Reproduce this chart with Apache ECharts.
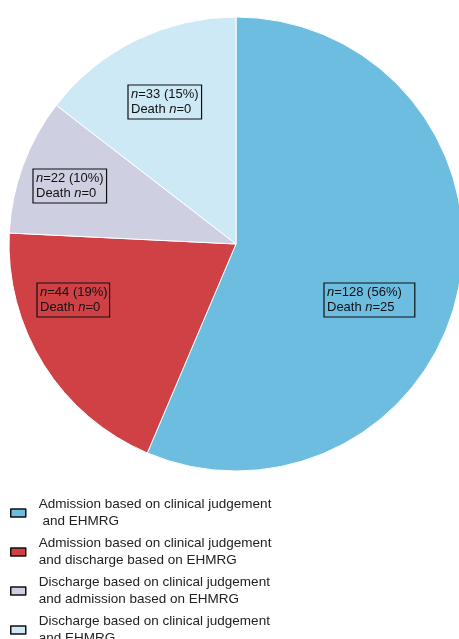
<!DOCTYPE html>
<html>
<head>
<meta charset="utf-8">
<script src="https://cdn.jsdelivr.net/npm/echarts@6/dist/echarts.min.js"></script>
<style>
html, body { margin: 0; padding: 0; background: #fff; }
#main { width: 459px; height: 639px; }
</style>
</head>
<body>
<div id="main"></div>
<script>
// data
var categories = [
    'Admission based on clinical judgement\n and EHMRG',
    'Admission based on clinical judgement\nand discharge based on EHMRG',
    'Discharge based on clinical judgement\nand admission based on EHMRG',
    'Discharge based on clinical judgement\nand EHMRG'
];
var counts = [128, 44, 22, 33];
var percents = [56, 19, 10, 15];
var deaths = [25, 0, 0, 0];

var colors = ['#6dbde0', '#d04146', '#cfcfe2', '#cde9f5'];
// top-left corner of each label box (px) and its right padding
var labelPos = [[324, 283], [37, 283], [33, 169], [128, 85]];
var labelPadRight = [13, 2, 3, 3];

var myChart = echarts.init(document.getElementById('main'));

var seriesData = [];
for (var i = 0; i < counts.length; i++) {
    seriesData.push({
        name: categories[i],
        value: counts[i],
        label: { padding: [2, labelPadRight[i], 2, 3] }
    });
}

var option = {
    color: colors,
    textStyle: { fontFamily: 'Liberation Sans, Arial, sans-serif' },
    legend: {
        orient: 'vertical',
        left: 5,
        top: 491,
        height: 200,
        itemWidth: 15,
        itemHeight: 8,
        itemGap: 5,
        icon: 'rect',
        itemStyle: { borderColor: '#111', borderWidth: 1.5 },
        textStyle: { fontSize: 13.5, color: '#222', lineHeight: 17, padding: [0, 0, 0, 8] }
    },
    series: [{
        type: 'pie',
        center: [236, 244],
        radius: [0, 227],
        startAngle: 90,
        clockwise: true,
        silent: true,
        itemStyle: { borderColor: '#fff', borderWidth: 1 },
        data: seriesData,
        label: {
            show: true,
            position: 'inside',
            formatter: function (p) {
                var i = p.dataIndex;
                return '{i|n}{t|=' + counts[i] + ' (' + percents[i] + '%)}\n{t|Death }{i|n}{t|=' + deaths[i] + '}';
            },
            borderColor: '#111',
            borderWidth: 1.2,
            rich: {
                t: { fontSize: 13, color: '#111', lineHeight: 15 },
                i: { fontSize: 13, color: '#111', fontStyle: 'italic', lineHeight: 15 }
            }
        },
        labelLine: { show: false },
        labelLayout: function (params) {
            var p = labelPos[params.dataIndex];
            return { x: p[0], y: p[1], align: 'left', verticalAlign: 'top' };
        }
    }]
};

myChart.setOption(option);
window.onresize = myChart.resize;
</script>
</body>
</html>
